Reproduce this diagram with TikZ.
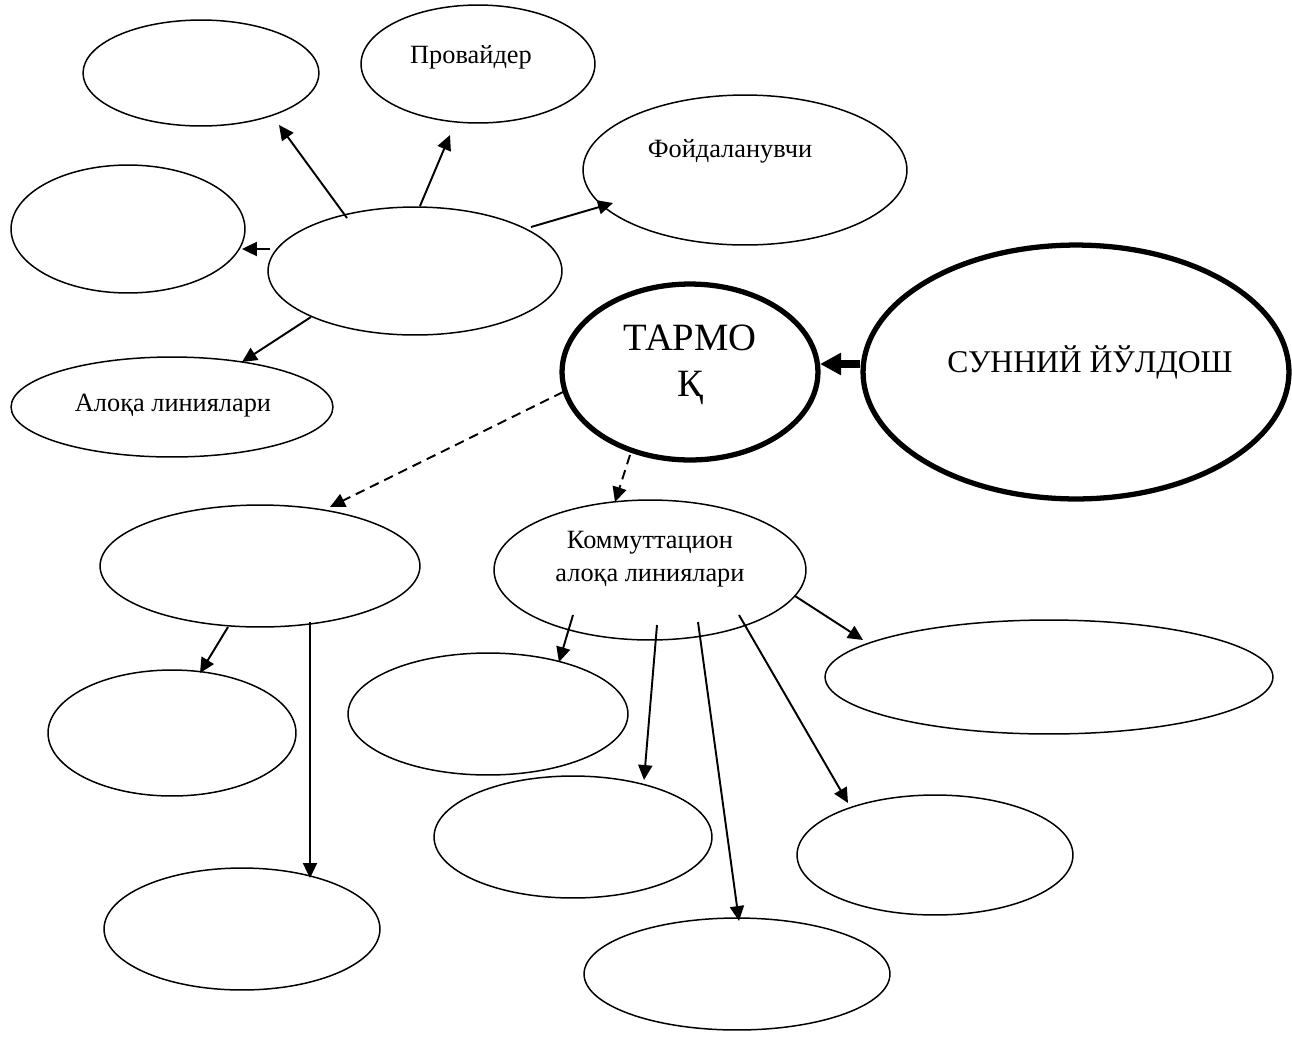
\documentclass[tikz,border=0pt]{standalone}
\usepackage{fontspec}
\setmainfont{Liberation Serif}
\usetikzlibrary{shapes.geometric,arrows.meta}
\begin{document}
\begin{tikzpicture}[x=0.02cm,y=-0.02cm,
  el/.style 2 args={ellipse, draw, line width=0.85pt, minimum width=#1*0.04cm, minimum height=#2*0.04cm, inner sep=0pt},
  thickel/.style 2 args={el={#1}{#2}, line width=3pt},
  txt/.style={font=\rmfamily\fontsize{15}{18.5}\selectfont, inner sep=0pt, align=center},
  tartxt/.style={font=\rmfamily\fontsize{22}{26}\selectfont, inner sep=0pt},
  suntxt/.style={font=\rmfamily\fontsize{18}{22}\selectfont, inner sep=0pt},
  arr/.style={line width=1.1pt, -{Triangle[length=8.5pt,width=8pt]}},
  darr/.style={arr, dash pattern=on 5.5pt off 3.5pt},
  harr/.style={line width=4pt, -{Triangle[length=12pt,width=12pt]}}]
\useasboundingbox (0,0) rectangle (1292,1039);
% ellipses
\node[el={118}{53}] (tl) at (201,73) {};
\node[el={117}{59}] (prov) at (478,64) {};
\node[el={162}{75}] (foy) at (745,170) {};
\node[el={117}{64}] (lm) at (128,229) {};
\node[el={147}{64}] (hub) at (415,271) {};
\node[el={161}{50}] (aloqa) at (172,407) {};
\node[thickel={128}{88}] (tarmoq) at (690,372) {};
\node[thickel={213}{127}] (sun) at (1076,372) {};
\node[el={160}{61}] (llm) at (260,566) {};
\node[el={156}{70}] (kom) at (650,570) {};
\node[el={124}{63}] (bl1) at (172,733) {};
\node[el={138}{61}] (bl2) at (242,929) {};
\node[el={140}{61}] (mid) at (488,714) {};
\node[el={139}{61}] (lmid) at (573,837) {};
\node[el={153}{56}] (bot) at (737,974) {};
\node[el={224}{57}] (rw) at (1049,677) {};
\node[el={138}{60}] (rl) at (935,855) {};
% texts
\node[txt] (tprov) at (471,57) {Провайдер};
\node[txt] (tfoy) at (730,151) {Фойдаланувчи};
\node[txt] (taloqa) at (173,406) {Алоқа линиялари};
\node[tartxt] (ttar1) at (690,338) {ТАРМО};
\node[tartxt] (ttar2) at (690,388) {Қ};
\node[suntxt] (tsun) at (1090,362) {СУННИЙ ЙЎЛДОШ};
\node[txt] (tkom) at (650,559) {Коммуттацион\\алоқа линиялари};
% arrow end points
\coordinate (a1s) at (347,218); \coordinate (a1e) at (279,125);
\coordinate (a2s) at (420,206); \coordinate (a2e) at (450,135);
\coordinate (a3s) at (531,227); \coordinate (a3e) at (613,203);
\coordinate (a4s) at (270,249); \coordinate (a4e) at (242,249);
\coordinate (a5s) at (311,317); \coordinate (a5e) at (242,362);
\coordinate (a6s) at (860,364); \coordinate (a6e) at (820,364);
\coordinate (a7s) at (563,392); \coordinate (a7e) at (330,507);
\coordinate (a8s) at (630,455); \coordinate (a8e) at (615,502);
\coordinate (a9s) at (228,627); \coordinate (a9e) at (200,673);
\coordinate (a10s) at (310,622); \coordinate (a10e) at (310,878);
\coordinate (a11s) at (573,615); \coordinate (a11e) at (559,662);
\coordinate (a12s) at (657,625); \coordinate (a12e) at (644,780);
\coordinate (a13s) at (698,622); \coordinate (a13e) at (739,921);
\coordinate (a14s) at (739,615); \coordinate (a14e) at (848,803);
\coordinate (a15s) at (795,596); \coordinate (a15e) at (863,640);
% arrows
\draw[arr] (a1s) -- (a1e);
\draw[arr] (a2s) -- (a2e);
\draw[arr] (a3s) -- (a3e);
\draw[arr] (a4s) -- (a4e);
\draw[arr] (a5s) -- (a5e);
\draw[harr] (a6s) -- (a6e);
\draw[darr] (a7s) -- (a7e);
\draw[darr] (a8s) -- (a8e);
\draw[arr] (a9s) -- (a9e);
\draw[arr] (a10s) -- (a10e);
\draw[arr] (a11s) -- (a11e);
\draw[arr] (a12s) -- (a12e);
\draw[arr] (a13s) -- (a13e);
\draw[arr] (a14s) -- (a14e);
\draw[arr] (a15s) -- (a15e);
\end{tikzpicture}
\end{document}
